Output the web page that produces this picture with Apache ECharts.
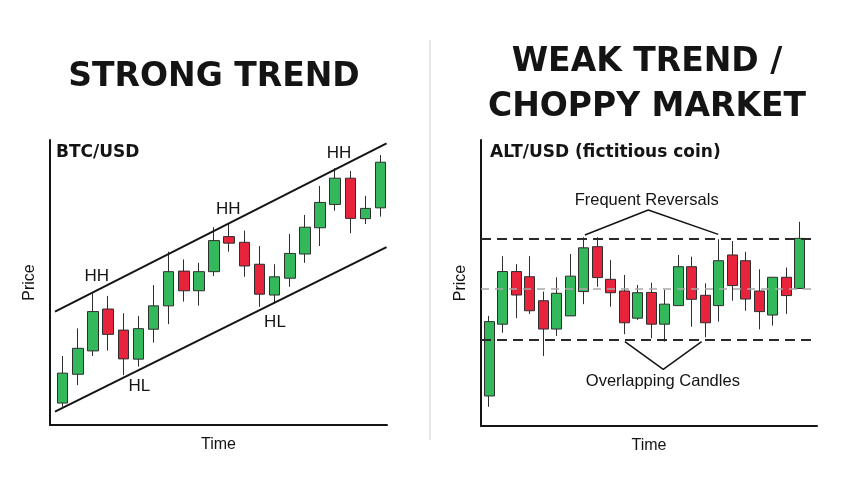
<!DOCTYPE html>
<html><head><meta charset="utf-8">
<script src="https://cdn.jsdelivr.net/npm/echarts@6/dist/echarts.min.js"></script>
<style>html,body{margin:0;padding:0;background:#fff}#c{width:860px;height:480px}</style>
</head><body><div id="c"></div>
<script>
// Strong trend: [open, close, low, high]
const btcOHLC = [
  [7.7, 18.2, 6.4, 24.2], [17.8, 26.9, 14.0, 33.9], [26.0, 39.8, 24.2, 46.2], [40.7, 31.8, 26.1, 45.3],
  [33.3, 23.2, 17.5, 39.2], [23.1, 33.8, 20.5, 38.2], [33.6, 41.8, 28.9, 49.1], [41.8, 53.8, 35.4, 60.8],
  [54.0, 47.1, 43.3, 58.1], [47.1, 53.8, 41.9, 56.9], [53.8, 64.7, 52.3, 69.4], [66.1, 63.8, 60.8, 70.8],
  [64.1, 55.8, 52.0, 68.2], [56.4, 45.9, 41.5, 62.8], [45.6, 52.0, 42.7, 56.4], [51.5, 60.2, 48.5, 67.0],
  [60.0, 69.4, 56.9, 73.7], [69.2, 78.1, 62.8, 83.9], [77.4, 86.6, 75.2, 90.1], [86.6, 72.5, 67.3, 89.1],
  [72.4, 76.0, 70.5, 80.4], [76.2, 92.2, 73.1, 94.7]
];
// Choppy market: [open, close, low, high]
const altOHLC = [
  [10.5, 36.5, 6.7, 38.5], [35.6, 54.0, 32.6, 59.4], [54.0, 45.8, 37.7, 56.6], [52.2, 40.3, 39.2, 59.4],
  [43.8, 33.9, 24.5, 47.0], [33.9, 46.4, 31.5, 52.0], [38.5, 52.4, 38.5, 60.1], [47.0, 62.3, 42.6, 66.0],
  [62.7, 51.9, 48.7, 66.0], [51.3, 46.6, 41.7, 58.0], [47.2, 36.1, 32.1, 52.8], [37.7, 46.6, 37.1, 49.3],
  [46.7, 35.6, 30.7, 50.1], [35.6, 42.6, 29.5, 47.6], [42.1, 55.7, 42.1, 59.8], [55.7, 44.3, 34.7, 59.2],
  [45.7, 36.1, 31.0, 49.9], [42.1, 57.8, 36.5, 65.3], [59.8, 49.1, 43.8, 64.7], [57.8, 44.4, 40.3, 60.9],
  [47.2, 40.0, 33.8, 54.8], [38.8, 52.0, 35.1, 52.0], [52.0, 45.6, 39.2, 55.4], [48.1, 65.6, 48.1, 71.4]
];
// channel lines (x index, price)
const upperChannel = [[-0.51, 39.8], [21.39, 98.8]];
const lowerChannel = [[-0.51, 4.7], [21.39, 62.4]];
const swingLabels = [[2.25, 52.3, 'HH'], [10.94, 75.7, 'HH'], [18.25, 95.3, 'HH'], [5.06, 13.4, 'HL'], [14.02, 36.2, 'HL']];
// choppy range levels
const rangeTop = 65.6, rangeMid = 48.1, rangeBottom = 30.3;
const reversalPointer = [[7.08, 66.8], [11.77, 75.5], [16.95, 67.0]];
const overlapPointer = [[10.04, 29.5], [12.88, 19.8], [15.72, 29.5]];
const noteLabels = [[11.65, 78.7, 'Frequent Reversals'], [12.85, 15.7, 'Overlapping Candles']];

const GREEN = '#34b85c', RED = '#e8233c', EDGE = '#2e2e2e', INK = '#141414';
const bodyFont = 'Liberation Sans, Arial, sans-serif';
const boldFont = 'DejaVu Sans, sans-serif';

const axisBase = {
  axisLine: { show: true, onZero: false, lineStyle: { color: INK, width: 2 } },
  axisTick: { show: false }, axisLabel: { show: false }, splitLine: { show: false },
  nameLocation: 'middle', nameGap: 12,
  nameTextStyle: { fontFamily: bodyFont, fontSize: 16, color: INK }
};
const candleStyle = { color: GREEN, color0: RED, borderColor: EDGE, borderColor0: EDGE, borderWidth: 1 };

const chart = echarts.init(document.getElementById('c'), null, { renderer: 'canvas' });
chart.setOption({
  animation: false,
  backgroundColor: '#fff',
  grid: [
    { left: 50, right: 860 - 387, top: 140, bottom: 480 - 425 },
    { left: 481, right: 860 - 817, top: 140, bottom: 480 - 426 }
  ],
  xAxis: [
    Object.assign({}, axisBase, { type: 'value', gridIndex: 0, min: -0.84, max: 21.42, name: 'Time' }),
    Object.assign({}, axisBase, { type: 'value', gridIndex: 1, min: -0.61, max: 24.26, name: 'Time' })
  ],
  yAxis: [
    Object.assign({}, axisBase, { type: 'value', gridIndex: 0, min: 0, max: 100, name: 'Price' }),
    Object.assign({}, axisBase, { type: 'value', gridIndex: 1, min: 0, max: 100, name: 'Price' })
  ],
  series: [
    { type: 'line', xAxisIndex: 0, yAxisIndex: 0, data: upperChannel, symbol: 'none', lineStyle: { color: INK, width: 2 }, silent: true },
    { type: 'line', xAxisIndex: 0, yAxisIndex: 0, data: lowerChannel, symbol: 'none', lineStyle: { color: INK, width: 2 }, silent: true },
    { type: 'candlestick', xAxisIndex: 0, yAxisIndex: 0, barWidth: 11,
      data: btcOHLC.map((d, i) => [i].concat(d)), encode: { x: 0, y: [1, 2, 3, 4] }, itemStyle: candleStyle },
    { type: 'scatter', xAxisIndex: 0, yAxisIndex: 0, symbolSize: 0, data: swingLabels, silent: true,
      itemStyle: { opacity: 1 },
      label: { show: true, position: 'inside', formatter: p => p.value[2], fontFamily: bodyFont, fontSize: 17, color: INK } },
    { type: 'line', xAxisIndex: 1, yAxisIndex: 1, data: [], symbol: 'none', silent: true,
      markLine: { symbol: 'none', silent: true, label: { show: false },
        data: [
          { yAxis: rangeTop, lineStyle: { color: '#2a2a2a', width: 2, type: [10, 6] } },
          { yAxis: rangeMid, lineStyle: { color: '#a8a8a8', width: 1.5, type: [8, 6] } },
          { yAxis: rangeBottom, lineStyle: { color: '#2a2a2a', width: 2, type: [10, 6] } }
        ] } },
    { type: 'candlestick', xAxisIndex: 1, yAxisIndex: 1, barWidth: 10.5,
      data: altOHLC.map((d, i) => [i].concat(d)), encode: { x: 0, y: [1, 2, 3, 4] }, itemStyle: candleStyle },
    { type: 'line', xAxisIndex: 1, yAxisIndex: 1, data: reversalPointer, symbol: 'none', lineStyle: { color: INK, width: 1.5 }, silent: true },
    { type: 'line', xAxisIndex: 1, yAxisIndex: 1, data: overlapPointer, symbol: 'none', lineStyle: { color: INK, width: 1.5 }, silent: true },
    { type: 'scatter', xAxisIndex: 1, yAxisIndex: 1, symbolSize: 0, data: noteLabels, silent: true,
      itemStyle: { opacity: 1 },
      label: { show: true, position: 'inside', formatter: p => p.value[2], fontFamily: bodyFont, fontSize: 16.5, color: INK } }
  ],
  graphic: [
    { type: 'line', shape: { x1: 430, y1: 40, x2: 430, y2: 440 }, style: { stroke: '#cfcfcf', lineWidth: 1 }, silent: true },
    { type: 'text', x: 214, y: 61, style: { text: 'STRONG TREND', font: 'bold 33px ' + boldFont, fill: INK, textAlign: 'center' } },
    { type: 'text', x: 647, y: 40, style: { text: 'WEAK TREND /\nCHOPPY MARKET', font: 'bold 33px ' + boldFont, lineHeight: 45, fill: INK, textAlign: 'center' } },
    { type: 'text', x: 56, y: 144, style: { text: 'BTC/USD', font: 'bold 17px ' + boldFont, fill: INK } },
    { type: 'text', x: 490, y: 144, style: { text: 'ALT/USD (fictitious coin)', font: 'bold 17px ' + boldFont, fill: INK } }
  ]
});
</script>
</body></html>
